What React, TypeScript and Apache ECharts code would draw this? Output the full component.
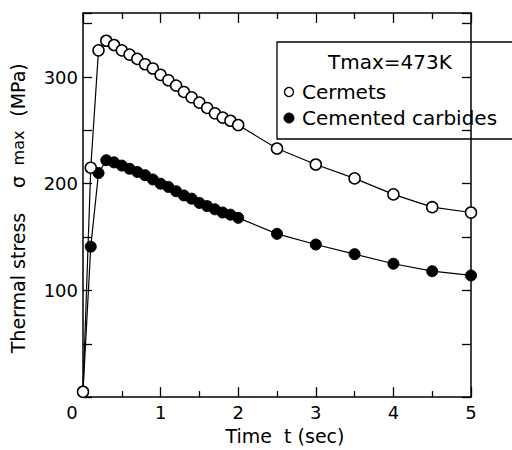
import React, { useEffect, useRef } from "react";
import * as echarts from "echarts";

const times = [0, 0.1, 0.2, 0.3, 0.4, 0.5, 0.6, 0.7, 0.8, 0.9, 1.0, 1.1, 1.2, 1.3, 1.4, 1.5, 1.6, 1.7, 1.8, 1.9, 2.0, 2.5, 3.0, 3.5, 4.0, 4.5, 5.0];
const cermets = [5, 215, 325, 334, 330, 325, 321, 317, 312, 308, 302, 297, 292, 286, 281, 276, 271, 266, 262, 259, 255, 233, 218, 205, 190, 178, 173];
const carbides = [5, 141, 210, 222, 220, 217, 214, 211, 208, 204, 200, 197, 193, 189, 186, 182, 179, 176, 173, 171, 168, 153, 143, 134, 125, 118, 114];
const seriesNames = ["Cermets", "Cemented carbides"];
const legendTitle = "Tmax=473K";
const xLabels = [0, 1, 2, 3, 4, 5];
const yLabels = [100, 200, 300];
const xName = "Time  t (sec)";
const yNameParts = ["Thermal stress", "σ", "max", "(MPa)"];

const FONT = "DejaVu Sans";

export default function App() {
  const ref = useRef<HTMLDivElement>(null);
  useEffect(() => {
    document.body.style.margin = "0";
    const chart = echarts.init(ref.current!, null, { renderer: "svg" });
    const axisLine = { show: true, onZero: false, lineStyle: { color: "#000", width: 1.5 } };
    const tick = { show: true, inside: true, length: 10, lineStyle: { color: "#000", width: 1.3 } };
    const minor = { show: true, splitNumber: 2, length: 6, lineStyle: { color: "#000", width: 1.3 } };
    const xBase = { type: "value", min: 0, max: 5, interval: 1, splitLine: { show: false }, minorSplitLine: { show: false }, axisLine, axisTick: tick, minorTick: minor };
    const yBase = { type: "value", min: 0, max: 360, interval: 50, splitLine: { show: false }, axisLine, axisTick: { ...tick, length: 9 } };
    const toData = (vals: number[]) => times.map((t, i) => [t, vals[i]]);
    const yText = (text: string, y: number, size: number) => ({
      type: "text",
      x: 18,
      y,
      rotation: Math.PI / 2,
      style: { text, font: `${size}px '${FONT}'`, fill: "#000", align: "center", verticalAlign: "middle" },
    });
    chart.setOption({
      animation: false,
      grid: { left: 83, right: 41, top: 13, bottom: 45 },
      xAxis: [
        {
          ...xBase,
          position: "bottom",
          name: xName,
          nameLocation: "middle",
          nameGap: 24,
          nameTextStyle: { fontFamily: FONT, fontSize: 19, color: "#000", padding: [0, 0, 0, 16] },
          axisLabel: {
            fontFamily: FONT,
            fontSize: 18,
            color: "#000",
            margin: 6,
            formatter: (v: number) => (xLabels.includes(v) ? (v === 0 ? "{z|0}" : String(v)) : ""),
            rich: { z: { fontFamily: FONT, fontSize: 18, color: "#000", padding: [0, 22, 0, 0] } },
          },
        },
        { ...xBase, position: "top", axisLabel: { show: false } },
      ],
      yAxis: [
        {
          ...yBase,
          position: "left",
          axisLabel: {
            fontFamily: FONT,
            fontSize: 18,
            color: "#000",
            margin: 5,
            formatter: (v: number) => (yLabels.includes(v) ? String(v) : ""),
          },
        },
        { ...yBase, position: "right", axisLabel: { show: false } },
      ],
      series: [
        {
          name: seriesNames[1],
          type: "line",
          data: toData(carbides),
          symbol: "circle",
          symbolSize: 11,
          itemStyle: { color: "#000", borderColor: "#000", borderWidth: 1 },
          lineStyle: { color: "#000", width: 1.2 },
          z: 2,
        },
        {
          name: seriesNames[0],
          type: "line",
          data: toData(cermets),
          symbol: "circle",
          symbolSize: 11,
          itemStyle: { color: "#fff", borderColor: "#000", borderWidth: 1.5 },
          lineStyle: { color: "#000", width: 1.2 },
          z: 3,
        },
      ],
      graphic: [
        yText(yNameParts[0], 283, 19),
        yText(yNameParts[1], 182, 19),
        yText(yNameParts[2], 148, 16),
        yText(yNameParts[3], 90, 19),
        {
          type: "group",
          z: 100,
          children: [
            { type: "rect", shape: { x: 277, y: 42, width: 260, height: 97 }, style: { fill: "#fff", stroke: "#000", lineWidth: 1.3 } },
            { type: "text", x: 328, y: 62, style: { text: legendTitle, font: `20px '${FONT}'`, fill: "#000", verticalAlign: "middle" } },
            { type: "circle", shape: { cx: 289, cy: 92, r: 4.5 }, style: { fill: "#fff", stroke: "#000", lineWidth: 1.3 } },
            { type: "text", x: 302, y: 92, style: { text: seriesNames[0], font: `20px '${FONT}'`, fill: "#000", verticalAlign: "middle" } },
            { type: "circle", shape: { cx: 289, cy: 118, r: 5 }, style: { fill: "#000", stroke: "#000", lineWidth: 1 } },
            { type: "text", x: 302, y: 118, style: { text: seriesNames[1], font: `20px '${FONT}'`, fill: "#000", verticalAlign: "middle" } },
          ],
        },
      ],
    });
    return () => chart.dispose();
  }, []);
  return <div ref={ref} style={{ width: 512, height: 450 }} />;
}
